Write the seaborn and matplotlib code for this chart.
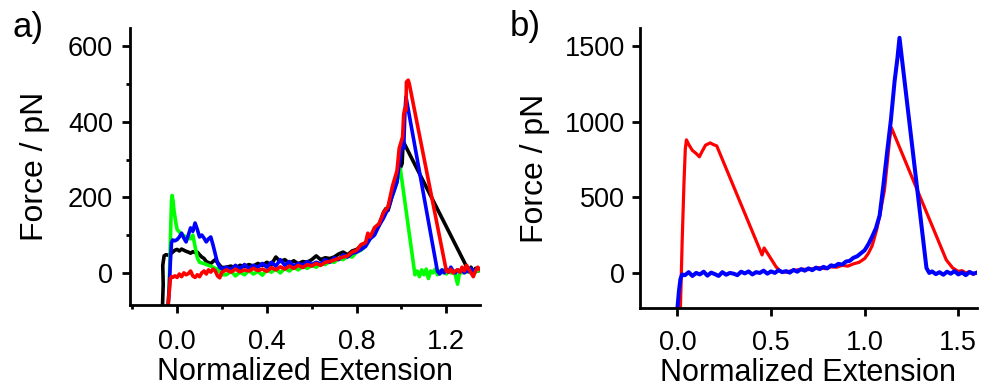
import numpy as np
import pandas as pd
import matplotlib
matplotlib.use("Agg")
import matplotlib.pyplot as plt
import seaborn as sns
from matplotlib.ticker import FixedLocator

# ---------------- Panel a data ----------------
BLACK_X = [-0.065, -0.062, -0.064, -0.058, -0.05, -0.04, -0.03, -0.02, -0.01,
           0.00, 0.01, 0.02, 0.03, 0.04, 0.05, 0.06, 0.07, 0.08, 0.09, 0.10,
           0.11, 0.12, 0.13, 0.14, 0.15, 0.16, 0.17, 0.18, 0.19, 0.20,
           0.22, 0.24, 0.26, 0.28, 0.30, 0.32, 0.34, 0.36, 0.38, 0.40,
           0.42, 0.44, 0.46, 0.48, 0.50, 0.52, 0.54, 0.56, 0.58, 0.60,
           0.62, 0.64, 0.66, 0.68, 0.70, 0.72, 0.74, 0.76, 0.78, 0.80,
           0.82, 0.84, 0.86, 0.88, 0.90,
           0.92, 0.93, 0.94, 0.95, 0.96, 0.97, 0.98, 0.99, 1.00,
           1.003, 1.006, 1.01,
           1.30, 1.31, 1.32, 1.33, 1.34, 1.35]
BLACK_Y = [-85, -30, 20, 45, 48, 47, 50, 55, 60,
           62, 58, 63, 60, 57, 55, 52, 56, 54, 55, 48,
           42, 38, 30, 27, 25, 30, 35, 28, 20, 14,
           15, 18, 12, 20, 17, 22, 18, 25, 20, 28,
           22, 42, 30, 35, 25, 32, 24, 30, 28, 35,
           45, 35, 40, 38, 42, 50, 55, 48, 58, 62,
           70, 80, 92, 110, 125,
           160, 170, 165, 185, 210, 225, 250, 270, 285,
           290, 330, 345,
           5, 15, 0, 12, 5, 8]

GREEN_X = [-0.040, -0.036, -0.032, -0.028, -0.025, -0.022, -0.018, -0.014, -0.010, -0.005,
           0.00, 0.01, 0.02, 0.03, 0.04, 0.05, 0.06, 0.07, 0.08, 0.09, 0.10,
           0.11, 0.12, 0.13, 0.14, 0.15, 0.16, 0.17, 0.18, 0.19, 0.20,
           0.22, 0.24, 0.26, 0.28, 0.30, 0.32, 0.34, 0.36, 0.38, 0.40,
           0.42, 0.44, 0.46, 0.48, 0.50, 0.52, 0.54, 0.56, 0.58, 0.60,
           0.62, 0.64, 0.66, 0.68, 0.70, 0.72, 0.74, 0.76, 0.78, 0.80,
           0.82, 0.84, 0.86, 0.88, 0.90, 0.92, 0.94, 0.96, 0.98,
           0.99, 0.995, 1.06,
           1.07, 1.08, 1.09, 1.10, 1.11, 1.12, 1.13, 1.14, 1.15, 1.16,
           1.17, 1.18, 1.19, 1.20, 1.21, 1.22, 1.23, 1.24, 1.25, 1.26,
           1.27, 1.28, 1.29, 1.30, 1.31, 1.32, 1.33, 1.34, 1.35]
GREEN_Y = [-85, -40, 40, 130, 190, 205, 190, 165, 150, 130,
           115, 108, 100, 98, 95, 92, 90, 100, 70, 40, 28,
           26, 25, 22, 20, 18, 15, 12, 10, 2, -5,
           -5, 5, -8, 2, -5, 6, -3, 4, -6, 8,
           2, 10, 0, 12, 5, 15, 8, 18, 12, 20,
           15, 25, 22, 30, 28, 38, 35, 45, 42, 55,
           60, 72, 90, 105, 130, 150, 175, 205, 240,
           265, 275, -5,
           5, -10, 8, -5, 10, -15, 5, 0, 10, -5,
           5, 0, 8, -3, 5, 0, 3, -5, -30, 5,
           0, 8, 2, 5, 0, 6, 2, 8, 5]

BLUE_X = [-0.040, -0.035, -0.030, -0.025, -0.020, -0.010,
          0.00, 0.01, 0.02, 0.03, 0.04, 0.05, 0.06, 0.07, 0.08, 0.09, 0.10,
          0.11, 0.12, 0.13, 0.14, 0.15, 0.16, 0.17, 0.18, 0.19, 0.20,
          0.22, 0.24, 0.26, 0.28, 0.30, 0.32, 0.34, 0.36, 0.38, 0.40,
          0.42, 0.44, 0.46, 0.48, 0.50, 0.52, 0.54, 0.56, 0.58, 0.60,
          0.62, 0.64, 0.66, 0.68, 0.70, 0.72, 0.74, 0.76, 0.78, 0.80,
          0.82, 0.84, 0.86, 0.88, 0.90, 0.92, 0.94, 0.96, 0.98,
          0.99, 1.00, 1.005, 1.01, 1.015, 1.02,
          1.16, 1.17, 1.18, 1.19, 1.20, 1.21, 1.22, 1.23, 1.24, 1.25,
          1.26, 1.27, 1.28, 1.29, 1.30, 1.31, 1.32, 1.33]
BLUE_Y = [-85, -40, 30, 80, 87, 85,
          88, 95, 105, 92, 82, 100, 119, 110, 132, 115, 95,
          100, 92, 82, 90, 95, 74, 50, 26, 15, 10,
          15, 8, 20, 10, 22, 12, 20, 15, 25, 15,
          28, 18, 35, 20, 30, 18, 25, 20, 30, 22,
          28, 24, 35, 28, 40, 35, 48, 42, 52, 55,
          62, 70, 90, 100, 125, 145, 170, 205, 240,
          290, 330, 350, 330, 420, 466,
          5, -3, 8, 0, 10, 2, 15, 5, 0, 8,
          3, 10, 0, 6, 3, 12, 2, 8]

RED_X = [-0.040, -0.035, -0.030, -0.025, -0.020, -0.010,
         0.00, 0.01, 0.02, 0.03, 0.04, 0.05, 0.06, 0.07, 0.08, 0.09, 0.10,
         0.11, 0.12, 0.13, 0.14, 0.15, 0.16, 0.17, 0.18, 0.19, 0.20,
         0.22, 0.24, 0.26, 0.28, 0.30, 0.32, 0.34, 0.36, 0.38, 0.40,
         0.42, 0.44, 0.46, 0.48, 0.50, 0.52, 0.54, 0.56, 0.58, 0.60,
         0.62, 0.64, 0.66, 0.68, 0.70, 0.72, 0.74, 0.76, 0.78, 0.80,
         0.82, 0.84,
         0.85, 0.86, 0.88, 0.90, 0.92, 0.94, 0.96, 0.97, 0.98, 0.99,
         1.00, 1.005, 1.01, 1.015, 1.02, 1.022, 1.03, 1.035,
         1.20, 1.21, 1.22, 1.23, 1.24, 1.25, 1.26, 1.27, 1.28, 1.29,
         1.30, 1.31, 1.32, 1.33, 1.34, 1.35]
RED_Y = [-85, -50, -15, -10, -12, -8,
         -12, -3, -10, 0, -5, -2, 5, -8, -12, -5, -10,
         0, 5, -3, 8, 2, 10, 5, -8, -13, 2,
         8, 2, 10, 3, 8, 5, 12, 6, 10, 4,
         14, 8, 16, 10, 18, 12, 20, 14, 22, 18,
         25, 20, 28, 30, 34, 38, 42, 45, 55, 60,
         75, 80,
         105, 95, 120, 130, 160, 175, 230, 250, 270, 330,
         350, 360, 420, 435, 430, 505, 510, 500,
         5, 2, 10, 0, 5, 8, 2, 15, 5, 20,
         10, 0, -10, 5, 15, 8]

# ---------------- Panel b data ----------------
RB_X = [0.016, 0.025, 0.035, 0.042, 0.048, 0.06, 0.08, 0.10, 0.117, 0.13,
        0.15, 0.175, 0.19, 0.21, 0.452, 0.463, 0.527,
        0.55, 0.58, 0.61, 0.64, 0.67, 0.70, 0.73, 0.76, 0.79, 0.82,
        0.85, 0.88, 0.91, 0.94, 0.97, 1.00, 1.02, 1.04, 1.064, 1.08,
        1.106, 1.12, 1.133, 1.143, 1.436, 1.47,
        1.50, 1.52, 1.54, 1.56, 1.58, 1.60]
RB_Y = [-232, 200, 600, 820, 880, 850, 810, 790, 768, 800,
        845, 860, 850, 840, 119, 165, 40,
        10, 5, 15, 20, 25, 22, 30, 35, 28, 40,
        38, 50, 45, 60, 70, 95, 130, 180, 285, 380,
        550, 720, 880, 960, 86, 33,
        10, 15, 0, 8, -10, 5]

BB_X = [0.0, 0.008, 0.016, 0.025,
        0.04, 0.06, 0.08, 0.10, 0.12, 0.14, 0.16, 0.18, 0.20, 0.22,
        0.24, 0.26, 0.28, 0.30, 0.32, 0.34, 0.36, 0.38, 0.40, 0.42,
        0.44, 0.46, 0.48, 0.50, 0.52, 0.54, 0.56, 0.58, 0.60, 0.62,
        0.64, 0.66, 0.68, 0.70, 0.72, 0.74, 0.76, 0.78, 0.80, 0.82,
        0.84, 0.86, 0.88, 0.90, 0.92, 0.94, 0.96, 0.98, 1.00,
        1.02, 1.04, 1.06, 1.08, 1.10, 1.12, 1.14, 1.16, 1.175, 1.186,
        1.33, 1.345,
        1.36, 1.38, 1.40, 1.42, 1.44, 1.46, 1.48, 1.50, 1.52, 1.54,
        1.56, 1.58, 1.60]
BB_Y = [-232, -120, -40, -10,
        -15, 5, -20, 0, -10, 8, -18, 2, -8, -20,
        5, -12, 0, -5, -15, 8, -3, 10, -10, 5,
        0, 15, -5, 10, 0, 18, 5, 12, 2, 20,
        8, 25, 15, 30, 18, 35, 25, 40, 30, 50,
        45, 60, 55, 75, 80, 100, 110, 130, 150,
        190, 240, 295, 380, 580, 800, 1010, 1270, 1420, 1555,
        33, 0,
        10, -8, 5, -12, 8, -5, 12, -10, 3, -15,
        6, -5, 2]

A_CURVES = ["black", "green", "blue", "red"]
COLORS = {"black": "#000000", "green": "#00ff00", "blue": "#0000ff", "red": "#ff0000"}

A_XTICKS = [0.0, 0.4, 0.8, 1.2]
A_XMINOR = [-0.2, 0.2, 0.6, 1.0]
A_YTICKS = [0, 200, 400, 600]
A_YMINOR = [100, 300, 500]
B_XTICKS = [0.0, 0.5, 1.0, 1.5]
B_YTICKS = [0, 500, 1000, 1500]

XLABEL = "Normalized Extension"
YLABEL = "Force / pN"


def make_df(pairs, names):
    frames = []
    for (xs, ys), n in zip(pairs, names):
        assert len(xs) == len(ys), (n, len(xs), len(ys))
        frames.append(pd.DataFrame({"x": xs, "y": ys, "curve": n}))
    return pd.concat(frames, ignore_index=True)


df_a = make_df([(BLACK_X, BLACK_Y), (GREEN_X, GREEN_Y), (BLUE_X, BLUE_Y), (RED_X, RED_Y)], A_CURVES)
df_br = make_df([(RB_X, RB_Y)], ["red"])
df_bb = make_df([(BB_X, BB_Y)], ["blue"])

sns.set_theme(style="ticks")
plt.rcParams["font.family"] = ["Liberation Sans", "DejaVu Sans"]

fig = plt.figure(figsize=(9.81, 3.88), dpi=100)
W, H = 981, 388
axA = fig.add_axes([130 / W, 1 - 305 / H, (480 - 130) / W, (305 - 28) / H])
axB = fig.add_axes([640 / W, 1 - 308 / H, (977 - 640) / W, (308 - 28) / H])

sns.lineplot(data=df_a, x="x", y="y", hue="curve", hue_order=A_CURVES, palette=COLORS,
             sort=False, estimator=None, legend=False, linewidth=2.6, ax=axA)
sns.lineplot(data=df_br, x="x", y="y", color=COLORS["red"],
             sort=False, estimator=None, legend=False, linewidth=2.3, ax=axB)
sns.lineplot(data=df_bb, x="x", y="y", color=COLORS["blue"],
             sort=False, estimator=None, legend=False, linewidth=2.9, ax=axB)

axA.set_xlim(-0.21, 1.35)
axA.set_ylim(-85, 648)
axB.set_xlim(-0.2, 1.6)
axB.set_ylim(-232, 1620)

axA.xaxis.set_major_locator(FixedLocator(A_XTICKS))
axA.xaxis.set_minor_locator(FixedLocator(A_XMINOR))
axA.yaxis.set_major_locator(FixedLocator(A_YTICKS))
axA.yaxis.set_minor_locator(FixedLocator(A_YMINOR))
axB.xaxis.set_major_locator(FixedLocator(B_XTICKS))
axB.yaxis.set_major_locator(FixedLocator(B_YTICKS))
axA.set_xticklabels([f"{v:.1f}" for v in A_XTICKS])
axB.set_xticklabels([f"{v:.1f}" for v in B_XTICKS])

# (axes, ylabel pad, y tick pad, x tick pad)
for ax, ylpad, ytpad, xtpad in ((axA, 13, 6.8, 12.0), (axB, 10.8, 5, 10.0)):
    sns.despine(ax=ax)
    for s in ("left", "bottom"):
        ax.spines[s].set_linewidth(2.0)
        ax.spines[s].set_color("black")
    ax.tick_params(axis="both", which="major", direction="out", length=5.5, width=2,
                   color="black", labelsize=19.5, labelcolor="black")
    ax.tick_params(axis="x", which="major", pad=xtpad)
    ax.tick_params(axis="y", which="major", pad=ytpad)
    ax.tick_params(axis="both", which="minor", direction="out", length=3, width=2, color="black")
    ax.set_xlabel(XLABEL, fontsize=22, labelpad=1.5, color="black")
    ax.set_ylabel(YLABEL, fontsize=23, labelpad=ylpad, color="black")
    ax.grid(False)

fig.text(12 / W, 1 - 11 / H, "a)", fontsize=25, ha="left", va="top", color="black")
fig.text(510 / W, 1 - 10 / H, "b)", fontsize=25, ha="left", va="top", color="black")

fig.savefig("out.png", dpi=100)
